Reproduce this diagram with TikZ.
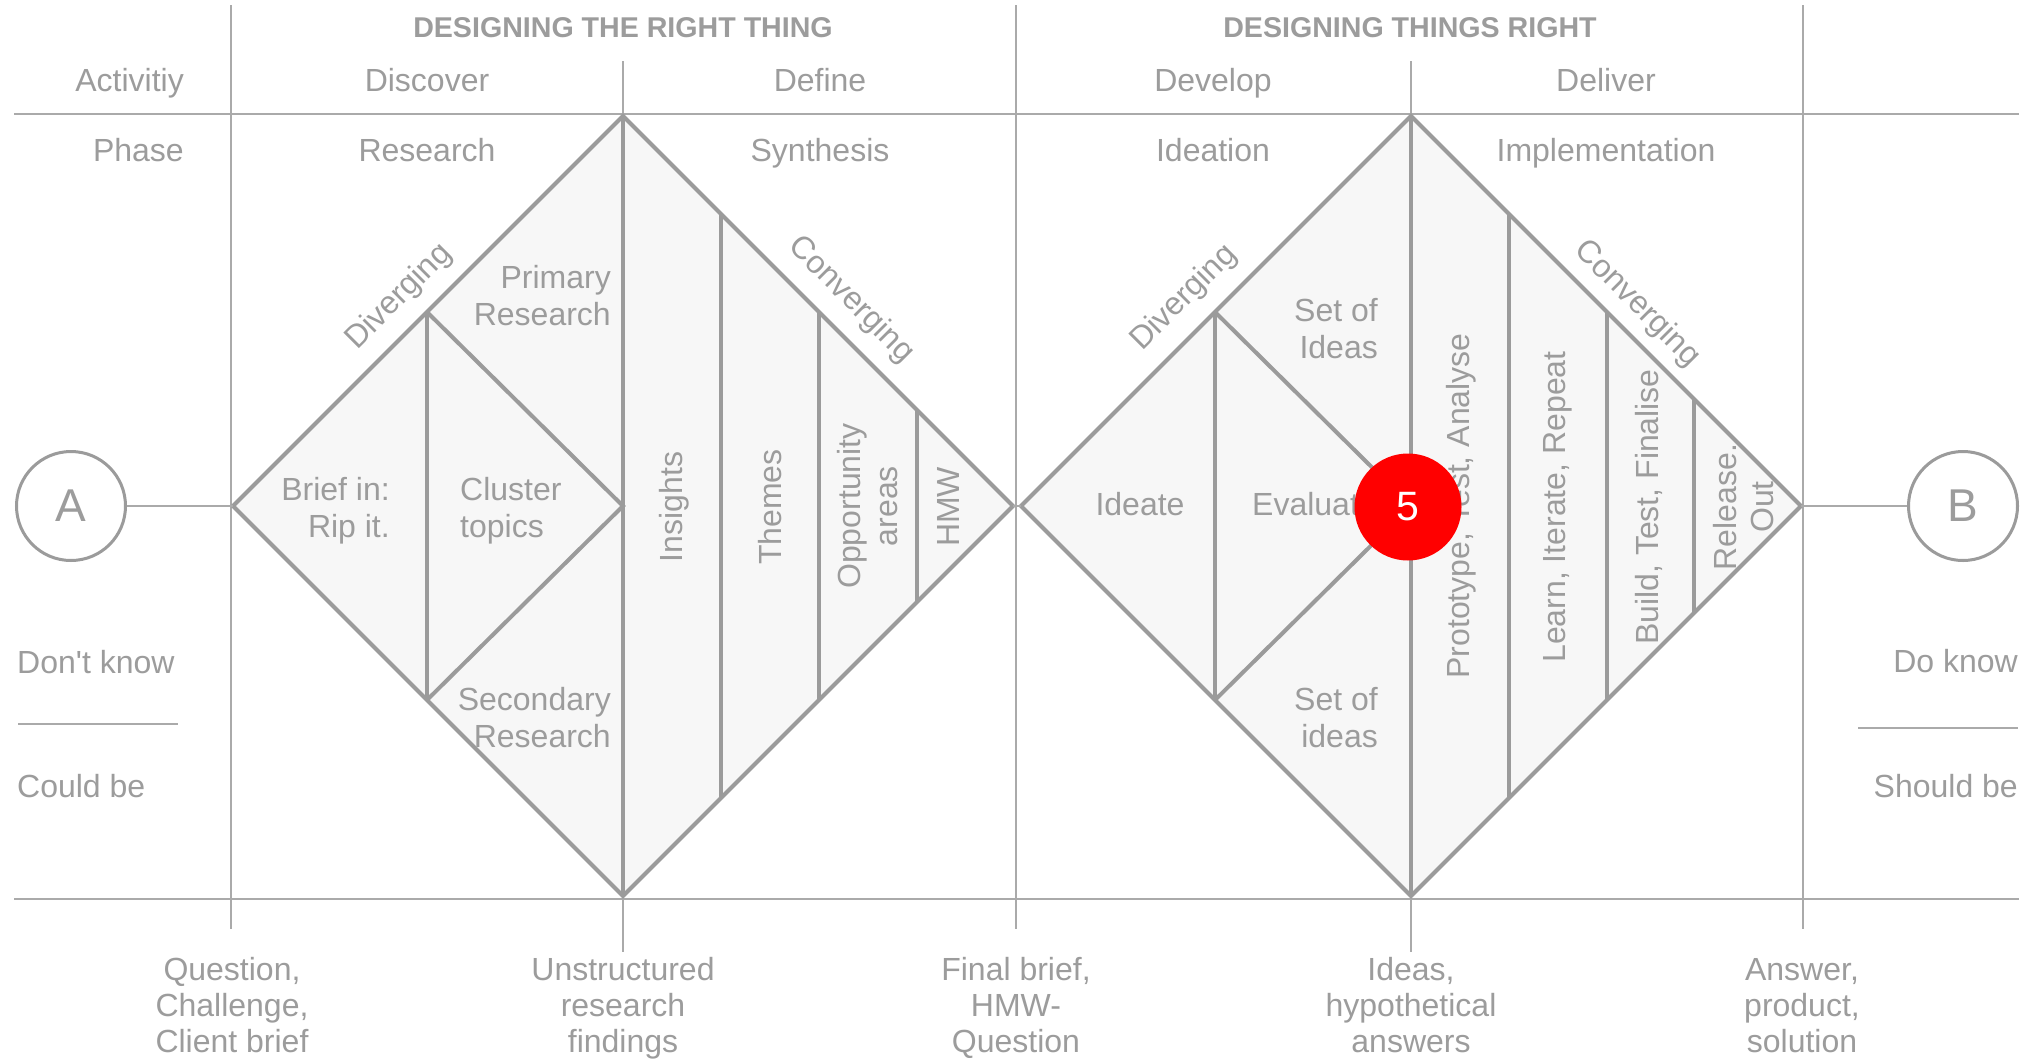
\documentclass[tikz,border=0pt]{standalone}
\usepackage{fontspec}
\setmainfont{Liberation Sans}[Ligatures=TeXOff]
\definecolor{lc}{HTML}{9B9B9B}
\definecolor{gc}{HTML}{AAAAAA}
\definecolor{tc}{HTML}{9C9C9C}
\definecolor{fc}{HTML}{F7F7F7}
\definecolor{rc}{HTML}{FF0000}
\tikzset{
  gridline/.style={draw=gc, line width=1.6pt},
  dia/.style={draw=lc, line width=4pt, fill=fc, line join=miter},
  dl/.style={draw=lc, line width=4pt},
  lbl/.style={text=tc, font=\fontsize{32}{37}\selectfont, inner sep=0pt},
  hdr/.style={text=tc, font=\bfseries\fontsize{28.6}{34}\selectfont, inner sep=0pt},
  vlbl/.style={lbl, rotate=90, align=center},
  blbl/.style={lbl, align=center, font=\fontsize{32}{36}\selectfont, anchor=base},
}
\begin{document}
\begin{tikzpicture}[x=1pt,y=-1pt]
\useasboundingbox (0,0) rectangle (2024,1058);
\fill[white] (0,0) rectangle (2024,1058);

% grid
\draw[gridline] (231,5) -- (231,929);
\draw[gridline] (623,61) -- (623,952);
\draw[gridline] (1016,5) -- (1016,929);
\draw[gridline] (1411,61) -- (1411,952);
\draw[gridline] (1803,5) -- (1803,929);
\draw[gridline] (14,114) -- (2019,114);
\draw[gridline, line width=2.6pt] (14,899) -- (2019,899);
\draw[gridline] (18,724) -- (178,724);
\draw[gridline] (1858,728) -- (2018,728);

% diamond 1
\coordinate (d1l) at (233,506);
\coordinate (d1t) at (623,116);
\coordinate (d1r) at (1013,506);
\coordinate (d1b) at (623,896);
\draw[dia] (d1l) -- (d1t) -- (d1r) -- (d1b) -- cycle;
\draw[dl] (427,312) -- (427,700);
\draw[dl] (427,312) -- (623,506) -- (427,700);
\draw[dl] (d1t) -- (d1b);
\draw[dl] (721,214) -- (721,798);
\draw[dl] (819,312) -- (819,700);
\draw[dl] (917,410) -- (917,602);

% diamond 2
\coordinate (d2l) at (1021,506);
\coordinate (d2t) at (1411,116);
\coordinate (d2r) at (1801,506);
\coordinate (d2b) at (1411,896);
\draw[dia] (d2l) -- (d2t) -- (d2r) -- (d2b) -- cycle;
\draw[dl] (1215,312) -- (1215,700);
\draw[dl] (1215,312) -- (1411,506) -- (1215,700);
\draw[dl] (d2t) -- (d2b);
\draw[dl] (1509,214) -- (1509,798);
\draw[dl] (1607,312) -- (1607,700);
\draw[dl] (1694,399) -- (1694,613);

% circles
\node[circle, draw=lc, line width=3pt, minimum size=109pt, inner sep=0pt, text=tc, font=\fontsize{46}{46}\selectfont] (A) at (71,506) {A};
\node[circle, draw=lc, line width=3pt, minimum size=109pt, inner sep=0pt, text=tc, font=\fontsize{46}{46}\selectfont] (B) at (1963,506) {B};
\draw[gridline] (A.east) -- (d1l);
\draw[gridline] (d1r) -- (d2l);
\draw[gridline] (d2r) -- (B.west);

% headers
\node[hdr, anchor=base] (h1) at (623,37) {DESIGNING THE RIGHT THING};
\node[hdr, anchor=base] (h2) at (1410,37) {DESIGNING THINGS RIGHT};

% rows
\node[lbl, anchor=base east] (act) at (184,91) {Activitiy};
\node[lbl, anchor=base east] (pha) at (184,161) {Phase};
\node[lbl, anchor=base] (disc) at (427,91) {Discover};
\node[lbl, anchor=base] (defi) at (820,91) {Define};
\node[lbl, anchor=base] (deve) at (1213,91) {Develop};
\node[lbl, anchor=base] (deli) at (1606,91) {Deliver};
\node[lbl, anchor=base] (rese) at (427,161) {Research};
\node[lbl, anchor=base] (synt) at (820,161) {Synthesis};
\node[lbl, anchor=base] (idea) at (1213,161) {Ideation};
\node[lbl, anchor=base] (impl) at (1606,161) {Implementation};

% diagonal labels
\node[lbl, rotate=45] (div1) at (399,297) {Diverging};
\node[lbl, rotate=-45] (con1) at (851,300) {Converging};
\node[lbl, rotate=45] (div2) at (1184,298) {Diverging};
\node[lbl, rotate=-45] (con2) at (1637,304) {Converging};

% diamond 1 labels (anchor base = last line baseline)
\node[lbl, align=right, anchor=base east] (prim) at (611,325) {Primary\\Research};
\node[lbl, align=right, anchor=base east] (brief) at (390,537) {Brief in:\\Rip it.};
\node[lbl, align=left, anchor=base west] (clus) at (460,537) {Cluster\\topics};
\node[lbl, align=right, anchor=base east] (seco) at (611,747) {Secondary\\Research};
\node[vlbl] (ins) at (674,507) {Insights};
\node[vlbl] (the) at (770,507) {Themes};
\node[vlbl] (opp) at (868,506) {Opportunity\\areas};
\node[vlbl] (hmw) at (948,507) {HMW};

% diamond 2 labels
\node[lbl, align=right, anchor=base east] (set1) at (1378,358) {Set of\\Ideas};
\node[lbl, anchor=base] (ideate) at (1140,515) {Ideate};
\node[lbl, anchor=base west] (eval) at (1252,515) {Evaluate};
\node[lbl, align=right, anchor=base east] (set2) at (1378,747) {Set of\\ideas};
\node[vlbl] (pro) at (1461,506) {Prototype, Test, Analyse};
\node[vlbl] (lea) at (1558,507) {Learn, Iterate, Repeat};
\node[vlbl] (bui) at (1649,507) {Build, Test, Finalise};
\node[vlbl] (rel) at (1744,507) {Release.\\Out};

\node[circle, fill=rc, minimum size=107pt, inner sep=0pt, text=white, font=\fontsize{41}{41}\selectfont] (five) at (1408,507) {5};

% side labels
\node[lbl, anchor=base west] (dk) at (17,673) {Don't know};
\node[lbl, anchor=base west] (cb) at (17,797) {Could be};
\node[lbl, anchor=base east] (dok) at (2018,672) {Do know};
\node[lbl, anchor=base east] (sb) at (2018,797) {Should be};

% bottom labels (anchor base = last line baseline)
\node[blbl] (q1) at (232,1052) {Question,\\Challenge,\\Client brief};
\node[blbl] (q2) at (623,1052) {Unstructured\\research\\findings};
\node[blbl] (q3) at (1016,1052) {Final brief,\\HMW-\\Question};
\node[blbl] (q4) at (1411,1052) {Ideas,\\hypothetical\\answers};
\node[blbl] (q5) at (1802,1052) {Answer,\\product,\\solution};
\end{tikzpicture}
\end{document}
